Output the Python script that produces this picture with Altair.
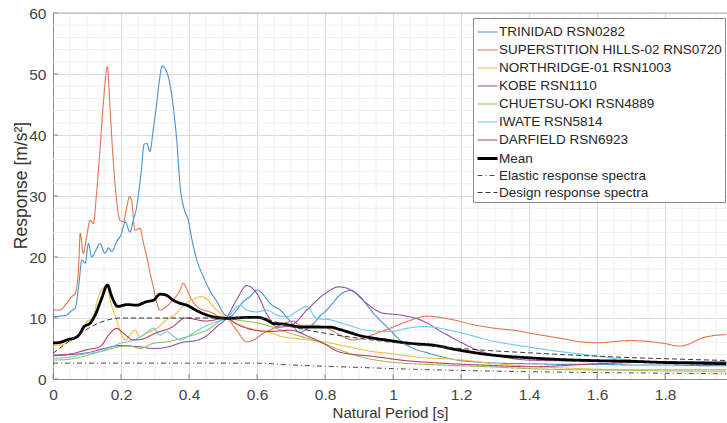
import altair as alt
import pandas as pd

# ---------------- data ----------------
TRINIDAD = [(0, 10.2), (0.02, 10.3), (0.04, 10.5), (0.055, 11.2), (0.065, 11.6), (0.075, 15.0),
            (0.085, 19.5), (0.095, 19.0), (0.104, 22.2), (0.114, 20.0), (0.125, 21.0), (0.138, 22.2),
            (0.153, 20.6), (0.163, 21.5), (0.173, 20.9), (0.187, 22.5), (0.202, 23.9), (0.212, 25.8),
            (0.226, 24.1), (0.236, 26.0), (0.246, 28.2), (0.26, 34.3), (0.268, 38.5), (0.276, 38.6),
            (0.285, 37.3), (0.295, 41.0), (0.305, 45.2), (0.313, 49.0), (0.321, 51.3), (0.334, 50.4),
            (0.345, 48.0), (0.354, 44.5), (0.364, 39.0), (0.374, 31.5), (0.385, 28.0), (0.398, 26.0),
            (0.408, 23.0), (0.423, 19.5), (0.442, 16.8), (0.462, 14.4), (0.481, 12.8), (0.506, 10.5),
            (0.52, 10.2), (0.54, 11.3), (0.56, 12.7), (0.579, 13.5), (0.6, 14.6), (0.619, 13.8),
            (0.638, 12.4), (0.668, 11.3), (0.697, 9.5), (0.726, 7.6), (0.746, 8.2), (0.766, 9.1),
            (0.785, 10.3), (0.805, 11.3), (0.825, 12.6), (0.844, 13.8), (0.874, 14.5), (0.903, 13.5),
            (0.922, 12.2), (0.942, 10.8), (0.962, 9.6), (0.981, 8.6), (1.0, 7.5), (1.02, 6.4),
            (1.06, 5.0), (1.1, 4.3), (1.14, 3.7), (1.2, 3.0), (1.24, 2.8), (1.3, 2.6), (1.4, 2.5),
            (1.5, 2.4), (1.6, 2.4), (1.7, 2.3), (1.8, 2.3), (1.9, 2.2), (1.98, 2.2)]

SUPERSTITION = [(0, 11.3), (0.02, 11.3), (0.04, 12.4), (0.055, 13.5), (0.065, 14.0), (0.075, 18.0),
                (0.08, 23.9), (0.089, 20.6), (0.099, 23.3), (0.109, 26.0), (0.119, 25.5), (0.128, 30.4),
                (0.138, 37.5), (0.148, 45.2), (0.16, 51.2), (0.168, 44.1), (0.177, 35.9), (0.187, 29.3),
                (0.197, 26.0), (0.207, 25.8), (0.217, 28.2), (0.225, 29.9), (0.231, 29.3), (0.241, 24.4),
                (0.256, 24.7), (0.265, 22.5), (0.276, 20.0), (0.285, 17.5), (0.295, 15.1), (0.305, 12.5),
                (0.315, 11.3), (0.334, 11.9), (0.354, 13.0), (0.374, 14.6), (0.383, 15.7), (0.393, 14.8),
                (0.403, 13.5), (0.423, 11.9), (0.442, 11.3), (0.462, 11.0), (0.491, 10.2), (0.51, 10.0),
                (0.54, 8.0), (0.57, 6.1), (0.59, 6.4), (0.619, 7.5), (0.648, 8.3), (0.678, 9.1),
                (0.707, 9.5), (0.726, 8.8), (0.76, 8.8), (0.795, 8.6), (0.844, 7.2), (0.883, 6.4),
                (0.942, 7.3), (0.99, 8.3), (1.04, 9.4), (1.1, 10.3), (1.16, 9.9), (1.236, 8.9),
                (1.3, 8.3), (1.354, 8.0), (1.403, 7.5), (1.5, 6.6), (1.55, 6.1), (1.6, 5.95),
                (1.697, 6.3), (1.795, 5.85), (1.844, 5.4), (1.92, 6.9), (1.98, 7.3)]

NORTHRIDGE = [(0, 5.5), (0.03, 5.7), (0.06, 6.5), (0.075, 7.2), (0.089, 8.0), (0.1, 9.5), (0.109, 9.7),
              (0.12, 10.5), (0.128, 12.4), (0.143, 14.6), (0.158, 15.1), (0.173, 11.9), (0.187, 9.7),
              (0.197, 8.0), (0.212, 6.4), (0.226, 7.2), (0.241, 8.0), (0.256, 6.9), (0.276, 7.5),
              (0.305, 8.3), (0.334, 9.7), (0.364, 10.8), (0.383, 12.0), (0.41, 13.0), (0.435, 13.5),
              (0.455, 13.0), (0.471, 11.9), (0.51, 10.0), (0.55, 8.9), (0.6, 8.0), (0.638, 7.6),
              (0.678, 6.9), (0.72, 6.6), (0.795, 6.1), (0.85, 5.5), (0.893, 5.0), (0.94, 4.5),
              (0.99, 4.2), (1.07, 3.6), (1.187, 3.2), (1.285, 2.6), (1.4, 2.1), (1.6, 1.6),
              (1.8, 1.3), (1.98, 1.2)]

KOBE = [(0, 3.8), (0.05, 4.0), (0.1, 4.3), (0.15, 5.0), (0.2, 5.5), (0.25, 5.3), (0.3, 5.0),
        (0.34, 5.3), (0.38, 6.0), (0.42, 6.3), (0.45, 7.0), (0.48, 8.5), (0.51, 10.0), (0.54, 13.0),
        (0.57, 15.3), (0.6, 14.0), (0.63, 10.5), (0.66, 8.5), (0.7, 8.8), (0.75, 11.5), (0.8, 14.0),
        (0.84, 15.1), (0.88, 14.5), (0.92, 12.5), (0.97, 10.8), (1.02, 10.5), (1.08, 9.7),
        (1.15, 7.5), (1.2, 6.0), (1.25, 4.7), (1.3, 3.9), (1.4, 3.1), (1.6, 2.9), (1.8, 2.7),
        (1.98, 2.6)]

CHUETSU = [(0, 3.1), (0.04, 3.2), (0.089, 3.7), (0.12, 4.2), (0.158, 4.75), (0.197, 5.3),
           (0.226, 5.4), (0.256, 5.0), (0.295, 5.85), (0.334, 6.1), (0.393, 6.9), (0.452, 8.0),
           (0.51, 9.9), (0.55, 9.6), (0.609, 9.1), (0.697, 7.5), (0.795, 5.85), (0.844, 4.75),
           (0.922, 3.4), (0.99, 2.8), (1.14, 2.3), (1.285, 2.0), (1.4, 1.7), (1.6, 1.5),
           (1.8, 1.5), (1.98, 1.5)]

IWATE = [(0, 3.4), (0.05, 3.6), (0.1, 4.2), (0.138, 4.5), (0.17, 5.2), (0.197, 5.85), (0.226, 6.2),
         (0.256, 6.9), (0.28, 7.8), (0.295, 8.3), (0.315, 7.2), (0.334, 7.75), (0.354, 7.0),
         (0.374, 6.4), (0.403, 7.2), (0.442, 8.5), (0.481, 9.4), (0.51, 10.0), (0.55, 12.1),
         (0.57, 11.3), (0.6, 11.0), (0.628, 11.3), (0.658, 10.5), (0.687, 10.2), (0.72, 11.2),
         (0.746, 11.9), (0.776, 9.9), (0.815, 9.7), (0.864, 8.9), (0.922, 8.0), (0.99, 7.75),
         (1.04, 8.3), (1.09, 8.6), (1.197, 7.6), (1.295, 6.2), (1.393, 5.3), (1.49, 4.5),
         (1.55, 4.1), (1.647, 3.4), (1.8, 2.7), (1.98, 2.3)]

DARFIELD = [(0, 3.9), (0.05, 4.1), (0.1, 4.8), (0.138, 5.3), (0.168, 7.5), (0.187, 8.3),
            (0.207, 7.5), (0.236, 6.4), (0.26, 6.5), (0.3, 7.5), (0.35, 8.5), (0.39, 10.0),
            (0.45, 9.5), (0.51, 10.0), (0.54, 9.0), (0.585, 8.1), (0.638, 7.8), (0.7, 8.0),
            (0.75, 7.0), (0.795, 5.85), (0.844, 4.4), (0.942, 3.7), (1.04, 3.0), (1.14, 2.6),
            (1.3, 2.2), (1.4, 2.0), (1.6, 2.5), (1.8, 2.8), (1.98, 2.8)]

MEAN = [(0, 5.9), (0.02, 6.0), (0.04, 6.4), (0.07, 6.9), (0.08, 7.5), (0.09, 8.5), (0.11, 9.2),
        (0.125, 10.6), (0.143, 13.2), (0.16, 15.4), (0.173, 13.5), (0.19, 11.9), (0.217, 12.2),
        (0.246, 12.1), (0.276, 12.7), (0.295, 12.9), (0.315, 13.9), (0.33, 13.8), (0.354, 12.9),
        (0.374, 12.4), (0.393, 12.1), (0.423, 11.2), (0.452, 10.5), (0.481, 10.1), (0.51, 9.95),
        (0.54, 10.0), (0.57, 10.1), (0.6, 10.1), (0.628, 9.7), (0.648, 9.1), (0.678, 9.0),
        (0.707, 8.7), (0.736, 8.5), (0.776, 8.5), (0.815, 8.5), (0.844, 8.1), (0.874, 7.6),
        (0.903, 7.1), (0.942, 6.7), (0.991, 6.3), (1.04, 5.9), (1.08, 5.7), (1.109, 5.6),
        (1.197, 4.7), (1.295, 3.9), (1.393, 3.5), (1.49, 3.2), (1.6, 3.0), (1.7, 2.9),
        (1.8, 2.7), (1.9, 2.6), (1.98, 2.5)]

ELASTIC = [(0, 2.6), (0.6, 2.6), (0.7, 2.3), (0.8, 2.1), (0.9, 1.9), (1.0, 1.7), (1.2, 1.4),
           (1.4, 1.2), (1.6, 1.05), (1.8, 0.95), (1.98, 0.85)]

DESIGN = [(0, 4.2), (0.2, 10.0), (0.6, 10.0), (0.7, 8.57), (0.8, 7.5), (0.9, 6.67), (1.0, 6.0),
          (1.1, 5.45), (1.2, 5.0), (1.3, 4.6), (1.4, 4.3), (1.5, 4.0), (1.6, 3.75), (1.7, 3.5),
          (1.8, 3.33), (1.9, 3.16), (1.98, 3.03)]

NAMES = ["TRINIDAD RSN0282", "SUPERSTITION HILLS-02 RNS0720", "NORTHRIDGE-01 RSN1003",
         "KOBE RSN1110", "CHUETSU-OKI RSN4889", "IWATE RSN5814", "DARFIELD RSN6923",
         "Mean", "Elastic response spectra", "Design response spectra"]
SERIES = [TRINIDAD, SUPERSTITION, NORTHRIDGE, KOBE, CHUETSU, IWATE, DARFIELD, MEAN, ELASTIC, DESIGN]
COLORS = ["#4a92cc", "#e07650", "#edbf45", "#9350a5", "#96c05a", "#6cc8ee", "#b8405f",
          "#000000", "#3a3a3a", "#3a3a3a"]
DASHES = [[1, 0]] * 8 + [[5, 3, 1, 3], [5, 3]]
WIDTHS = [1.1] * 7 + [2.8, 0.9, 1.0]

X_TICKS = [0, 0.2, 0.4, 0.6, 0.8, 1.0, 1.2, 1.4, 1.6, 1.8]
Y_TICKS = [0, 10, 20, 30, 40, 50, 60]
X_MINOR = [round(0.05 * i, 2) for i in range(40) if i % 4 != 0]
Y_MINOR = [v for v in range(0, 61, 2) if v % 10 != 0]
X_MAX = 1.982

# ---------------- build ----------------
rows = []
for order, (name, pts) in enumerate(zip(NAMES, SERIES)):
    for t, r in pts:
        rows.append({"T": t, "R": r, "name": name, "order": order})
df = pd.DataFrame(rows)

W, H = 674, 366
FONT = "Liberation Sans"

xs = alt.Scale(domain=[0, X_MAX], nice=False, zero=False)
ys = alt.Scale(domain=[0, 60], nice=False)

XAX = alt.Axis(values=X_TICKS, format="~g", grid=True, gridColor="#dadada",
               ticks=False, domainColor="#8a8a8a", labelFontSize=15.5,
               labelColor="#444444", labelPadding=8, labelFont=FONT,
               titleFont=FONT, titleFontSize=15, titleFontWeight="normal",
               titleColor="#333333", titlePadding=3, labelFlush=False,
               title="Natural Period [s]")
YAX = alt.Axis(values=Y_TICKS, grid=True, gridColor="#dadada", ticks=False,
               domainColor="#8a8a8a", labelFontSize=15.5, labelColor="#444444",
               labelPadding=7, labelFont=FONT, titleFont=FONT, titleFontSize=17.5,
               titleFontWeight="normal", titleColor="#333333",
               titleX=-32, titleY=172, titleAngle=270, titleAlign="center",
               titleBaseline="middle",
               title="Response [m/s²]")

lines = alt.Chart(df).mark_line(interpolate="monotone", clip=True).encode(
    x=alt.X("T:Q", scale=xs, axis=XAX),
    y=alt.Y("R:Q", scale=ys, axis=YAX),
    color=alt.Color("name:N", scale=alt.Scale(domain=NAMES, range=COLORS),
                    legend=alt.Legend(title=None, orient="none", legendX=420, legendY=5,
                                      fillColor="white", strokeColor="#8a8a8a", padding=3,
                                      symbolType="stroke", symbolSize=400, labelFontSize=13.5,
                                      labelFont=FONT, labelColor="#262626", rowPadding=0,
                                      labelOffset=0, labelLimit=400)),
    strokeDash=alt.StrokeDash("name:N", scale=alt.Scale(domain=NAMES, range=DASHES), legend=None),
    strokeWidth=alt.StrokeWidth("name:N", scale=alt.Scale(type="ordinal", domain=NAMES, range=WIDTHS),
                                legend=None),
    order=alt.Order("order:Q"),
    detail="name:N",
)

minor_x = alt.Chart(pd.DataFrame({"v": X_MINOR})).mark_rule(
    color="#efefef", strokeWidth=1).encode(x=alt.X("v:Q", scale=xs, axis=XAX))
minor_y = alt.Chart(pd.DataFrame({"v": Y_MINOR})).mark_rule(
    color="#efefef", strokeWidth=1).encode(y=alt.Y("v:Q", scale=ys, axis=YAX))

xt = alt.Chart(pd.DataFrame({"v": X_TICKS})).mark_rule(color="#8a8a8a").encode(
    x=alt.X("v:Q", scale=xs, axis=XAX), y=alt.value(H), y2=alt.value(H - 5))
yt = alt.Chart(pd.DataFrame({"v": Y_TICKS})).mark_rule(color="#8a8a8a").encode(
    y=alt.Y("v:Q", scale=ys, axis=YAX), x=alt.value(0), x2=alt.value(5))
top = alt.Chart(pd.DataFrame({"v": [60]})).mark_rule(color="#b0b0b0").encode(
    y=alt.Y("v:Q", scale=ys, axis=YAX), x=alt.value(0), x2=alt.value(W))

chart = alt.layer(minor_x, minor_y, lines, xt, yt, top).properties(
    width=W, height=H, autosize=alt.AutoSizeParams(type="none"),
    padding={"left": 53, "top": 13, "right": 0, "bottom": 44},
).configure_view(stroke=None).configure(background="white")

chart.save("out.html", embed_options={"renderer": "svg", "actions": False})
